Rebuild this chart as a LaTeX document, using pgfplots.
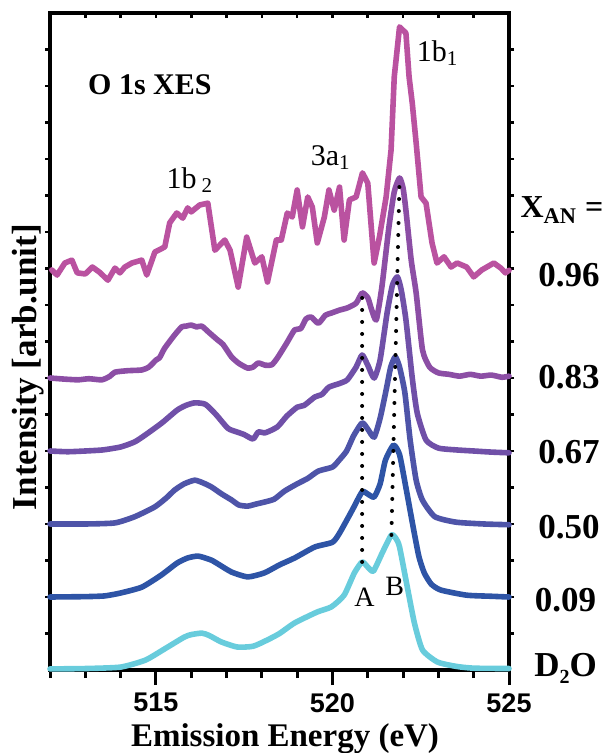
\documentclass[border=0pt]{standalone}
\usepackage{fontspec}
\setmainfont{Liberation Serif}
\newfontfamily\tickfont{Liberation Sans}
\usepackage{pgfplots}
\pgfplotsset{compat=1.18}

\definecolor{cA}{RGB}{186,82,160}
\definecolor{cB}{RGB}{140,78,165}
\definecolor{cC}{RGB}{112,80,168}
\definecolor{cD}{RGB}{78,84,168}
\definecolor{cE}{RGB}{46,84,166}
\definecolor{cF}{RGB}{104,204,220}

\pgfplotsset{
  spec/.style={line width=2.8pt, line join=round, line cap=round, no marks},
  smoothspec/.style={spec, smooth, tension=0.35},
  peakline/.style={black, line width=2pt, line cap=round, dash pattern=on 0pt off 6pt, no marks},
}

\begin{document}
\begin{tikzpicture}
\useasboundingbox (-25pt,-41.5pt) rectangle (275.5pt,335pt);

% frame with top and side ticks only
\begin{axis}[
  at={(0,0)}, anchor=south west,
  scale only axis, width=229.5pt, height=328.5pt,
  xmin=512, xmax=525, ymin=0, ymax=18,
  axis line style={line width=2pt},
  xtick={512,...,525}, xticklabels={}, xtick pos=upper,
  ytick={1,...,17}, yticklabels={}, ytick pos=both,
  tick style={line width=1.3pt, black},
  major tick length=2.5pt,
  xtick align=inside, ytick align=outside,
]
\end{axis}

\begin{axis}[
  at={(0,0)}, anchor=south west,
  scale only axis, width=229.5pt, height=328.5pt,
  xmin=512, xmax=525, ymin=0, ymax=18,
  clip=false,
  axis line style={line width=2pt},
  xtick={515,520,525}, xticklabels={515,520,525},
  minor xtick={512,...,525},
  xtick pos=lower, ytick=\empty,
  tick align=outside,
  major tick length=7.5pt, minor tick length=4pt,
  tick style={line width=1.5pt, black},
  xticklabel style={font=\tickfont\bfseries\fontsize{13.5}{14}\selectfont, inner sep=0pt, yshift=-4pt},
  xlabel={\textbf{Emission Energy (eV)}},
  xlabel style={font=\fontsize{16.5}{18}\selectfont, inner sep=0pt, at={(axis description cs:0.512,-0.1157)}, anchor=base},
  ylabel={\textbf{Intensity [arb.unit]}},
  ylabel style={font=\fontsize{17.5}{19}\selectfont, at={(axis description cs:-0.048,0.461)}, anchor=center},
]

% D2O
\addplot[smoothspec, cF] coordinates {
(512.0,0.03) (513.0,0.04) (514.0,0.08) (514.7,0.27) (515.25,0.58) (515.8,0.9)
(516.0,0.97) (516.3,1.01) (516.5,0.95) (516.85,0.77) (517.3,0.63) (517.75,0.65)
(518.15,0.82) (518.5,1.0) (518.93,1.29) (519.57,1.59) (519.97,1.73) (520.33,2.05)
(520.62,2.66) (520.84,2.96) (521.0,2.82) (521.16,2.71) (521.42,3.23) (521.67,3.70)
(521.8,3.6) (521.9,3.37) (522.12,2.27) (522.32,1.29) (522.55,0.55) (522.97,0.22)
(523.5,0.1) (524.0,0.05) (525,0.04)
};
% 0.09
\addplot[smoothspec, cE] coordinates {
(512.0,2.0) (513.0,2.01) (513.55,2.03) (514.0,2.11) (514.6,2.27) (515.15,2.6)
(515.6,2.93) (515.9,3.07) (516.2,3.12) (516.57,3.01) (516.85,2.85) (517.15,2.68)
(517.6,2.55) (518.07,2.66) (518.5,2.88) (518.93,3.07) (519.5,3.37) (520.0,3.5)
(520.2,3.75) (520.56,4.38) (520.84,4.88) (521.0,4.82) (521.18,4.74) (521.35,5.1)
(521.5,5.75) (521.73,6.16) (521.9,5.9) (522.08,5.0) (522.3,3.84) (522.45,3.1)
(522.6,2.66) (522.8,2.35) (523.07,2.19) (523.8,2.05) (524.5,2.02) (525,2.0)
};
% 0.50
\addplot[smoothspec, cD] coordinates {
(512.0,4.0) (513.0,4.0) (513.84,4.03) (514.4,4.2) (514.97,4.47) (515.3,4.72)
(515.53,4.93) (515.8,5.1) (516.1,5.2) (516.35,5.12) (516.58,5.01) (516.85,4.83)
(517.14,4.66) (517.35,4.52) (517.6,4.49) (517.85,4.55) (518.07,4.6) (518.35,4.68)
(518.64,4.9) (519.0,5.1) (519.3,5.25) (519.6,5.45) (520.0,5.56) (520.19,5.75)
(520.4,6.0) (520.6,6.42) (520.84,6.77) (521.0,6.6) (521.18,6.38) (521.35,6.9)
(521.52,7.67) (521.65,8.3) (521.78,8.58) (521.9,8.3) (522.05,7.6) (522.2,6.3)
(522.37,5.2) (522.55,4.65) (522.9,4.2) (523.5,4.05) (524.3,4.0) (525,3.98)
};
% 0.67
\addplot[smoothspec, cC] coordinates {
(512.0,6.0) (512.5,5.98) (513.0,6.0) (513.5,6.03) (514.0,6.11) (514.4,6.25)
(514.7,6.44) (515.17,6.77) (515.6,7.12) (515.85,7.25) (516.1,7.32) (516.4,7.28)
(516.7,7.0) (517.04,6.62) (517.3,6.52) (517.5,6.45) (517.75,6.33) (517.9,6.52)
(518.1,6.5) (518.44,6.66) (518.7,6.95) (519.0,7.2) (519.2,7.25) (519.5,7.48)
(519.7,7.55) (519.9,7.75) (520.2,7.85) (520.42,7.95) (520.67,8.3) (520.84,8.63)
(521.0,8.35) (521.18,8.0) (521.35,8.5) (521.55,9.8) (521.7,10.55) (521.84,10.77)
(521.95,10.4) (522.08,9.6) (522.26,8.0) (522.4,7.04) (522.65,6.3) (523.0,6.08)
(523.5,6.03) (524.0,6.0) (524.5,5.97) (525,5.95)
};
% 0.83
\addplot[smoothspec, cB] coordinates {
(512.0,8.0) (512.4,7.97) (512.8,7.95) (513.1,7.98) (513.47,7.95) (513.7,8.05)
(513.84,8.16) (514.2,8.2) (514.6,8.22) (514.8,8.3) (515.0,8.49) (515.1,8.55)
(515.25,8.82) (515.53,9.18) (515.73,9.4) (515.85,9.42) (516.0,9.45) (516.15,9.4)
(516.3,9.42) (516.5,9.25) (516.75,9.04) (516.9,8.92) (517.14,8.58) (517.35,8.4)
(517.6,8.27) (517.75,8.3) (517.9,8.41) (518.1,8.35) (518.28,8.36) (518.44,8.55)
(518.7,8.95) (518.93,9.32) (519.1,9.35) (519.25,9.62) (519.4,9.67) (519.6,9.5)
(519.8,9.72) (519.97,9.78) (520.2,9.86) (520.42,9.92) (520.67,10.05) (520.84,10.33)
(521.0,10.2) (521.1,9.9) (521.24,9.59) (521.4,10.5) (521.6,12.14)
(521.75,13.1) (521.9,13.48) (522.0,13.2) (522.08,12.6) (522.23,11.23) (522.37,10.33)
(522.55,8.77) (522.75,8.3) (523.0,8.14) (523.3,8.1) (523.6,8.05) (523.9,8.1)
(524.2,8.05) (524.5,8.08) (524.8,8.02) (525,8.05)
};
% 0.96
\addplot[spec, cA] coordinates {
(512.05,10.96) (512.2,10.82) (512.42,11.15) (512.62,11.23) (512.77,10.88) (513.0,10.85)
(513.2,11.04) (513.4,10.9) (513.64,10.68) (513.84,11.01) (513.98,10.88) (514.12,11.04)
(514.32,11.15) (514.6,11.23) (514.74,10.82) (514.97,11.45) (515.25,11.59) (515.39,12.25)
(515.59,12.52) (515.76,12.38) (515.9,12.66) (516.0,12.55) (516.24,12.74) (516.47,12.79)
(516.67,11.5) (516.95,11.78) (517.1,11.5) (517.33,10.49) (517.57,11.86) (517.8,11.15)
(518.0,11.32) (518.16,10.63) (518.41,11.78) (518.55,11.78) (518.72,12.52) (518.86,12.41)
(519.0,13.15) (519.15,12.14) (519.3,12.96) (519.43,12.68) (519.57,11.7) (519.77,12.41)
(519.9,13.15) (520.05,12.6) (520.2,13.23) (520.33,11.78) (520.48,12.88) (520.67,12.96)
(520.85,13.62) (521.0,13.34) (521.18,11.15) (521.33,11.86) (521.52,12.96) (521.66,14.25)
(521.75,16.25) (521.9,17.62) (522.08,17.45) (522.17,16.25) (522.26,15.53) (522.37,14.44)
(522.51,12.96) (522.65,12.79) (522.82,11.7) (522.96,11.15) (523.16,11.32) (523.36,11.04)
(523.53,11.15) (523.8,11.04) (524.0,10.77) (524.23,10.96) (524.57,11.15) (524.77,11.01)
(524.9,10.88) (525,10.95)
};

% peak guides
\addplot[peakline] coordinates {(520.84,2.96) (520.84,10.3)};
\addplot[peakline] coordinates {(521.67,3.70) (521.9,13.48)};

% annotations
\node[font=\bfseries\fontsize{15}{16}\selectfont] at (axis cs:514.83,16.03) {O 1s XES};
\node[font=\fontsize{15}{16}\selectfont] at (axis cs:515.96,13.42) {1b\,\textsubscript{2}};
\node[font=\fontsize{15}{16}\selectfont] at (axis cs:519.95,14.03) {3a\textsubscript{1}};
\node[font=\fontsize{15}{16}\selectfont] at (axis cs:522.98,16.9) {1b\textsubscript{1}};
\node[font=\fontsize{14}{15}\selectfont] at (axis cs:520.91,2.0) {A};
\node[font=\fontsize{14}{15}\selectfont] at (axis cs:521.76,2.3) {B};

\node[font=\bfseries\fontsize{16}{17}\selectfont] at (axis cs:526.5,12.6) {X\textsubscript{AN} =};
\node[font=\bfseries\fontsize{17.5}{18}\selectfont] at (axis cs:526.7,10.82) {0.96};
\node[font=\bfseries\fontsize{17.5}{18}\selectfont] at (axis cs:526.7,8.03) {0.83};
\node[font=\bfseries\fontsize{17.5}{18}\selectfont] at (axis cs:526.7,5.97) {0.67};
\node[font=\bfseries\fontsize{17.5}{18}\selectfont] at (axis cs:526.7,3.92) {0.50};
\node[font=\bfseries\fontsize{17.5}{18}\selectfont] at (axis cs:526.6,1.92) {0.09};
\node[font=\bfseries\fontsize{17.5}{18}\selectfont] at (axis cs:526.6,0.05) {D\raisebox{-0.45ex}{\fontsize{10}{10}\selectfont 2}O};
\end{axis}
\end{tikzpicture}
\end{document}
